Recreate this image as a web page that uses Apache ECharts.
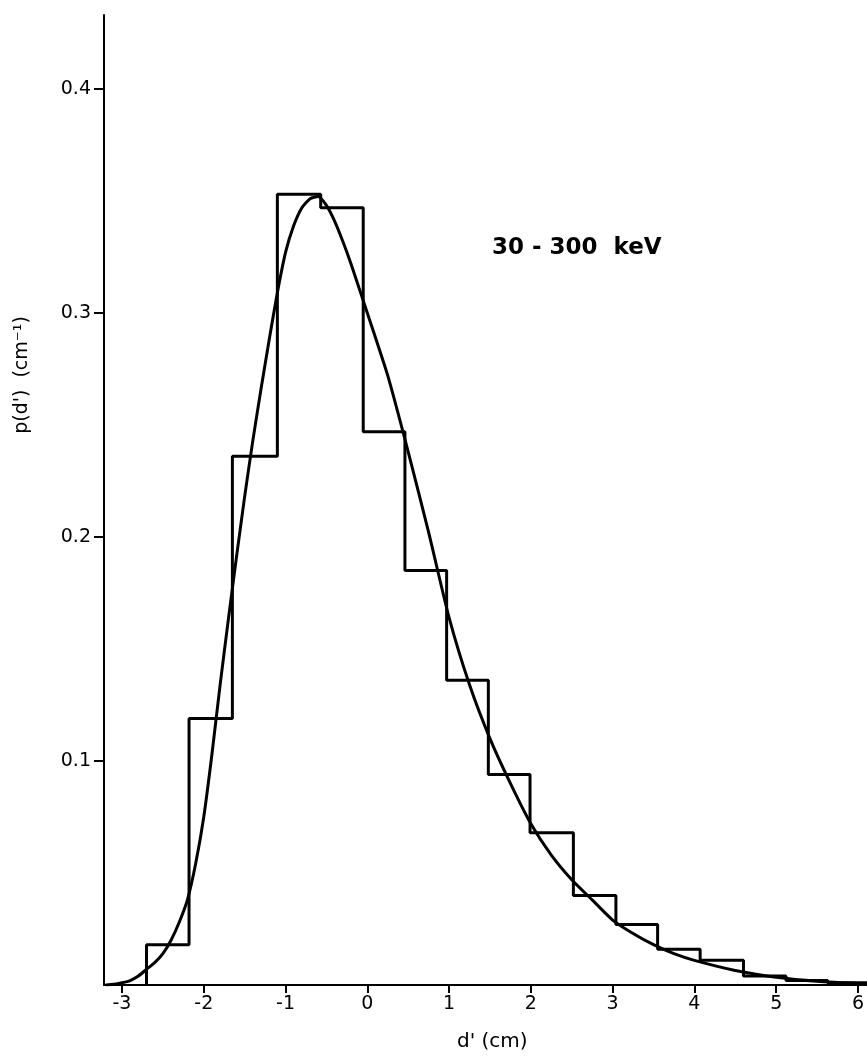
<!DOCTYPE html>
<html>
<head>
<meta charset="utf-8">
<script src="https://cdn.jsdelivr.net/npm/echarts@6/dist/echarts.min.js"></script>
<style>
html,body{margin:0;padding:0;background:#fff;}
#c{width:867px;height:1060px;}
</style>
</head>
<body>
<div id="c"></div>
<script>
// Histogram bin edges (d', cm) and heights p(d') (cm^-1)
const binEdges = [-2.70, -2.18, -1.65, -1.10, -0.57, -0.05, 0.46, 0.97, 1.48, 1.99, 2.52, 3.04, 3.55, 4.07, 4.60, 5.12, 5.63, 6.15];
const binHeights = [0.018, 0.119, 0.236, 0.353, 0.347, 0.247, 0.185, 0.136, 0.094, 0.068, 0.040, 0.027, 0.016, 0.011, 0.004, 0.002, 0.001];

// Fitted curve
const curveX = [-3.2, -3.1, -3.0, -2.9, -2.8, -2.7, -2.6, -2.5, -2.4, -2.3, -2.2, -2.1, -2.0, -1.9, -1.8, -1.7, -1.6, -1.5, -1.4, -1.3, -1.2, -1.1, -1.0, -0.9, -0.8, -0.7, -0.6, -0.5, -0.4, -0.3, -0.2, -0.1, 0.0, 0.25, 0.5, 0.75, 1.0, 1.25, 1.5, 1.75, 2.0, 2.25, 2.5, 2.75, 3.0, 3.25, 3.5, 3.75, 4.0, 4.5, 5.0, 5.5, 6.11];
const curveY = [0.000, 0.0003, 0.001, 0.002, 0.004, 0.007, 0.010, 0.014, 0.020, 0.028, 0.038, 0.054, 0.075, 0.103, 0.134, 0.163, 0.191, 0.218, 0.243, 0.266, 0.288, 0.309, 0.327, 0.339, 0.347, 0.351, 0.352, 0.348, 0.341, 0.332, 0.322, 0.311, 0.300, 0.272, 0.238, 0.202, 0.164, 0.134, 0.110, 0.090, 0.072, 0.058, 0.047, 0.038, 0.029, 0.023, 0.018, 0.014, 0.011, 0.0065, 0.0035, 0.0017, 0.0005];

const xTicks = [-3, -2, -1, 0, 1, 2, 3, 4, 5, 6];
const yTicks = [0.1, 0.2, 0.3, 0.4];

const histData = [[binEdges[0], 0]];
for (let i = 0; i < binHeights.length; i++) histData.push([binEdges[i], binHeights[i]]);
histData.push([binEdges[binEdges.length - 1], binHeights[binHeights.length - 1]]);

const curveData = curveX.map((x, i) => [x, curveY[i]]);

const FONT = '"DejaVu Sans", "Liberation Sans", sans-serif';
const chart = echarts.init(document.getElementById('c'), null, {renderer: 'canvas'});
chart.setOption({
  backgroundColor: '#fff',
  animation: false,
  grid: {left: 104, right: 0, top: 15, bottom: 75, containLabel: false},
  xAxis: {
    type: 'value', min: -3.22, max: 6.11,
    axisLine: {show: true, onZero: false, lineStyle: {color: '#000', width: 2}},
    axisTick: {show: true, customValues: xTicks, length: 8, inside: false, lineStyle: {color: '#000', width: 2}},
    axisLabel: {show: true, customValues: xTicks, color: '#000', fontSize: 19, fontFamily: FONT, margin: 10,
      formatter: v => String(Math.round(v))},
    splitLine: {show: false}
  },
  yAxis: {
    type: 'value', min: 0, max: 0.433,
    axisLine: {show: true, onZero: false, lineStyle: {color: '#000', width: 2}},
    axisTick: {show: true, customValues: yTicks, length: 10, lineStyle: {color: '#000', width: 2}},
    axisLabel: {show: true, customValues: yTicks, color: '#000', fontSize: 19, fontFamily: FONT, margin: 13,
      formatter: v => v.toFixed(1)},
    splitLine: {show: false}
  },
  graphic: [
    {type: 'text', left: 492, top: 237, style: {text: '30 - 300  keV', fill: '#000', font: 'bold 23px ' + FONT}},
    {type: 'text', left: 457, top: 1032, style: {text: "d' (cm)", fill: '#000', font: '20px ' + FONT}},
    {type: 'text', x: 22, y: 375, rotation: Math.PI / 2, style: {text: "p(d')  (cm⁻¹)", fill: '#000', font: '19px ' + FONT, align: 'center', verticalAlign: 'middle'}}
  ],
  series: [
    {type: 'line', data: histData, step: 'end', symbol: 'none', clip: true,
      lineStyle: {color: '#000', width: 3}},
    {type: 'line', data: curveData, smooth: 0.2, symbol: 'none', clip: true,
      lineStyle: {color: '#000', width: 3}}
  ]
});
</script>
</body>
</html>
